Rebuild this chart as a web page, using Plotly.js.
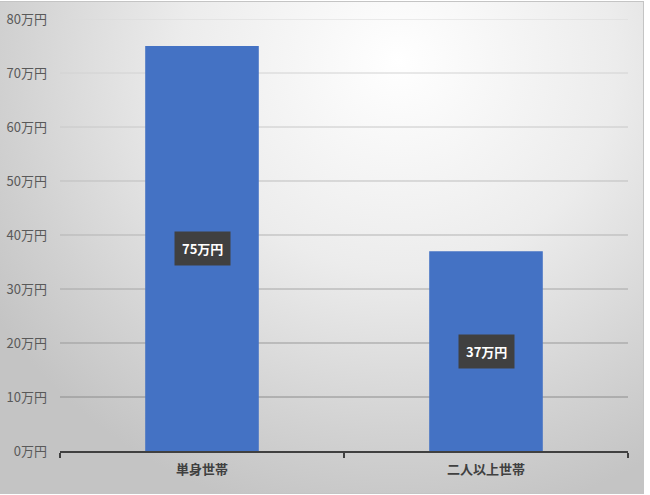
<!DOCTYPE html>
<html>
<head>
<meta charset="utf-8">
<script src="https://cdn.plot.ly/plotly-3.0.1.min.js"></script>
<style>
  html, body { margin: 0; padding: 0; background: #fff; }
  #chart {
    position: absolute; left: 0; top: 1px;
    width: 643px; height: 491px;
    border-top: 1px solid #c4c4c4;
    border-right: 1px solid #c4c4c4;
    border-bottom: 1px solid #c4c4c4;
    background: radial-gradient(ellipse 75% 95% at 62% 12%, #ffffff 0%, #ececec 45%, #d2d2d2 80%, #c4c4c4 100%);
  }
</style>
</head>
<body>
<div id="chart"></div>
<script>
// Household type vs. amount (万円)
const categories = ["単身世帯", "二人以上世帯"];
const amounts = [75, 37];
const labels = ["75万円", "37万円"];

const yTicks = [0, 10, 20, 30, 40, 50, 60, 70, 80];
const yTickText = yTicks.map(v => v + "万円");
// gridlines get darker toward the bottom, like the reference
const gridColors = ["#8c8c8c", "#999999", "#a6a6a6", "#b3b3b3", "#bdbdbd",
                    "#c8c8c8", "#d2d2d2", "#d9d9d9"];

const FONT = '"Noto Sans CJK JP", "Noto Sans", sans-serif';

const trace = {
    x: categories,
    y: amounts,
    type: "bar",
    marker: { color: "#4472C4" },
    hoverinfo: "none",
};

const gridShapes = yTicks.slice(1).map((v, i) => ({
    type: "line", layer: "below",
    xref: "paper", x0: 0, x1: 1,
    yref: "y", y0: v, y1: v,
    line: { color: gridColors[i], width: 1 },
}));

const labelNotes = categories.map((c, i) => ({
    x: c, y: amounts[i] / 2,
    xref: "x", yref: "y",
    text: labels[i],
    showarrow: false,
    bgcolor: "#404040",
    borderpad: 7,
    font: { family: FONT, size: 13, color: "#ffffff", weight: "bold" },
}));

const layout = {
    width: 643, height: 491,
    paper_bgcolor: "rgba(0,0,0,0)",
    plot_bgcolor: "rgba(0,0,0,0)",
    margin: { t: 17, b: 42, l: 60, r: 15 },
    font: { family: FONT },
    bargap: 0.6,
    showlegend: false,
    xaxis: {
        showline: true, linecolor: "#404040", linewidth: 2,
        ticks: "outside", tickson: "boundaries",
        ticklen: 5, tickwidth: 2, tickcolor: "#404040",
        showgrid: false, zeroline: false,
        ticklabelstandoff: 5,
        tickfont: { family: FONT, size: 13, color: "#404040", weight: "bold" },
    },
    yaxis: {
        range: [0, 80],
        tickmode: "array",
        tickvals: yTicks,
        ticktext: yTickText,
        showgrid: false, zeroline: false, showline: false,
        ticklabelstandoff: 12,
        tickfont: { family: FONT, size: 13, color: "#595959" },
    },
    shapes: gridShapes,
    annotations: labelNotes,
};

Plotly.newPlot("chart", [trace], layout, { displayModeBar: false, staticPlot: true });
</script>
</body>
</html>
